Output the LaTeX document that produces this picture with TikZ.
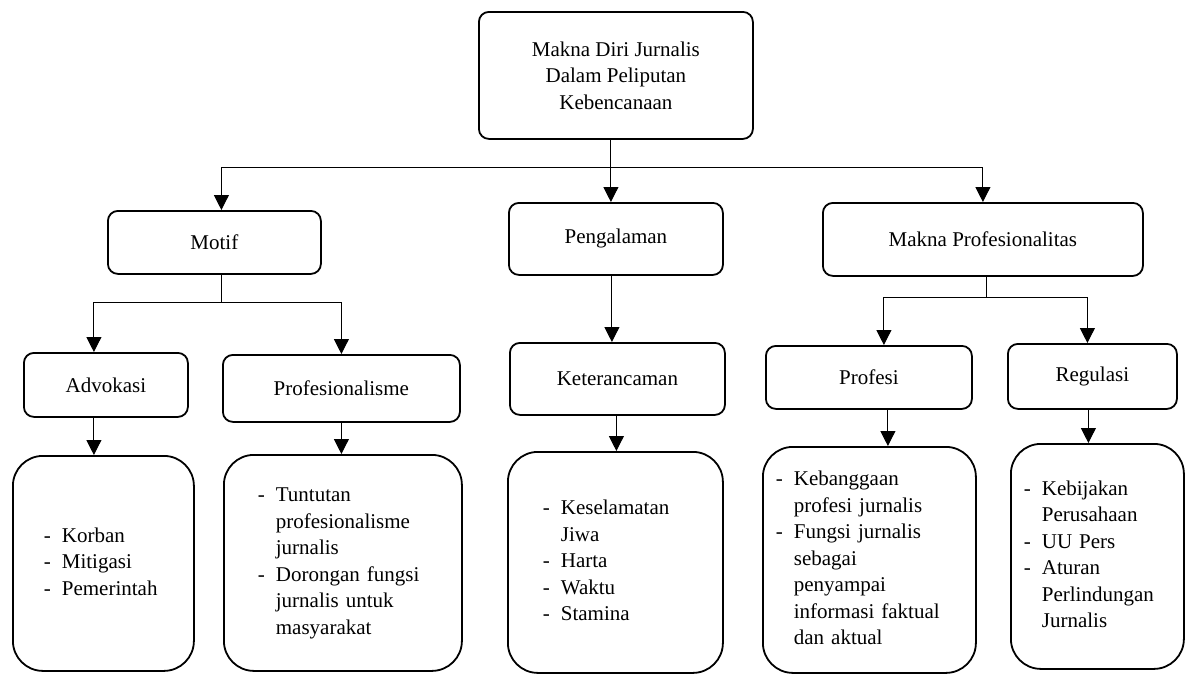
\documentclass[tikz,border=0pt]{standalone}
\usepackage{fontspec}
\setmainfont{Liberation Serif}
\usetikzlibrary{arrows.meta,positioning}
\tikzstyle{kotak}=[draw, line width=1.8pt, rounded corners=10pt, anchor=north west,
                inner sep=0pt, align=center]
\tikzstyle{isi}=[draw, line width=1.8pt, rounded corners=30pt, anchor=north west,
                inner ysep=0pt, align=left]
\tikzstyle{garis}=[line width=1pt]
\tikzstyle{panah}=[line width=1pt, -{Triangle[length=15pt,width=15pt]}]
\newcommand{\tanda}{\makebox[18pt][l]{-}}

\begin{document}
\begin{tikzpicture}[x=1pt, y=-1pt, every node/.style={font=\fontsize{21}{26.5}\selectfont}]
\useasboundingbox (0,0) rectangle (1187,673);
% tingkat atas
\node[kotak, minimum width=274pt, minimum height=127pt] (root) at (478,11)
  {Makna Diri Jurnalis\\Dalam Peliputan\\Kebencanaan};
\node[kotak, minimum width=213pt, minimum height=63pt] (motif) at (107,210) {Motif};
\node[kotak, minimum width=214pt, minimum height=72pt] (pengalaman) at (508,202) {Pengalaman};
\node[kotak, minimum width=320pt, minimum height=73pt] (makna) at (822,202) {Makna Profesionalitas};
% tingkat tengah
\node[kotak, minimum width=164pt, minimum height=64pt] (advokasi) at (23,352) {Advokasi};
\node[kotak, minimum width=237pt, minimum height=67pt] (profesionalisme) at (222,354) {Profesionalisme};
\node[kotak, minimum width=215pt, minimum height=72pt] (keterancaman) at (509,342) {Keterancaman};
\node[kotak, minimum width=206pt, minimum height=63pt] (profesi) at (765,345) {Profesi};
\node[kotak, minimum width=169pt, minimum height=65pt] (regulasi) at (1007,343) {Regulasi};
% isi
\node[isi, minimum height=215pt, inner xsep=31pt, text width=119pt] (korban) at (12,455)
  {\noindent\begin{tabular}{@{}l@{}l@{}}
   \tanda & Korban\\ \tanda & Mitigasi\\ \tanda & Pemerintah
  \end{tabular}};
\node[isi, minimum height=216pt, inner xsep=34pt, text width=170pt] (tuntutan) at (223,454)
  {\noindent\begin{tabular}{@{}l@{}l@{}}
   \tanda & Tuntutan\\ & profesionalisme\\ & jurnalis\\
   \tanda & Dorongan fungsi\\ & jurnalis untuk\\ & masyarakat
  \end{tabular}};
\node[isi, minimum height=221pt, inner xsep=35pt, text width=145pt] (keselamatan) at (507,451)
  {\noindent\begin{tabular}{@{}l@{}l@{}}
   \tanda & Keselamatan\\ & Jiwa\\ \tanda & Harta\\ \tanda & Waktu\\ \tanda & Stamina
  \end{tabular}};
\node[isi, minimum height=226pt, inner xsep=13pt, text width=187pt] (kebanggaan) at (762,446)
  {\noindent\begin{tabular}{@{}l@{}l@{}}
   \tanda & Kebanggaan\\ & profesi jurnalis\\
   \tanda & Fungsi jurnalis\\ & sebagai\\ & penyampai\\ & informasi faktual\\ & dan aktual
  \end{tabular}};
\node[isi, minimum height=225pt, inner xsep=13pt, text width=147pt] (kebijakan) at (1010,443)
  {\noindent\begin{tabular}{@{}l@{}l@{}}
   \tanda & Kebijakan\\ & Perusahaan\\ \tanda & UU Pers\\
   \tanda & Aturan\\ & Perlindungan\\ & Jurnalis
  \end{tabular}};
% penghubung
\coordinate (bus) at (0,167);
\coordinate (cabang1) at (0,302);
\coordinate (cabang2) at (0,297);
\draw[panah] ([xshift=-5pt]root.south) -- ([xshift=-5pt]root.south |- pengalaman.north);
\draw[garis] ([xshift=7pt]motif.north |- bus) -- (makna.north |- bus);
\draw[panah] ([xshift=7pt]motif.north |- bus) -- ([xshift=7pt]motif.north);
\draw[panah] (makna.north |- bus) -- (makna.north);
\draw[garis] ([xshift=7pt]motif.south) -- ([xshift=7pt]motif.south |- cabang1);
\draw[garis] ([xshift=-12pt]advokasi.north |- cabang1) -- (profesionalisme.north |- cabang1);
\draw[panah] ([xshift=-12pt]advokasi.north |- cabang1) -- ([xshift=-12pt]advokasi.north);
\draw[panah] (profesionalisme.north |- cabang1) -- (profesionalisme.north);
\draw[panah] ([xshift=-12pt]advokasi.south) -- ([xshift=-12pt]advokasi.south |- korban.north);
\draw[panah] (profesionalisme.south) -- (profesionalisme.south |- tuntutan.north);
\draw[panah] ([xshift=-4pt]pengalaman.south) -- ([xshift=-4pt]pengalaman.south |- keterancaman.north);
\draw[panah] ([xshift=-1pt]keterancaman.south) -- ([xshift=-1pt]keterancaman.south |- keselamatan.north);
\draw[garis] ([xshift=4pt]makna.south) -- ([xshift=4pt]makna.south |- cabang2);
\draw[garis] ([xshift=15pt]profesi.north |- cabang2) -- ([xshift=-5pt]regulasi.north |- cabang2);
\draw[panah] ([xshift=15pt]profesi.north |- cabang2) -- ([xshift=15pt]profesi.north);
\draw[panah] ([xshift=-5pt]regulasi.north |- cabang2) -- ([xshift=-5pt]regulasi.north);
\draw[panah] ([xshift=19pt]profesi.south) -- ([xshift=19pt]profesi.south |- kebanggaan.north);
\draw[panah] ([xshift=-4pt]regulasi.south) -- ([xshift=-4pt]regulasi.south |- kebijakan.north);
\end{tikzpicture}
\end{document}
